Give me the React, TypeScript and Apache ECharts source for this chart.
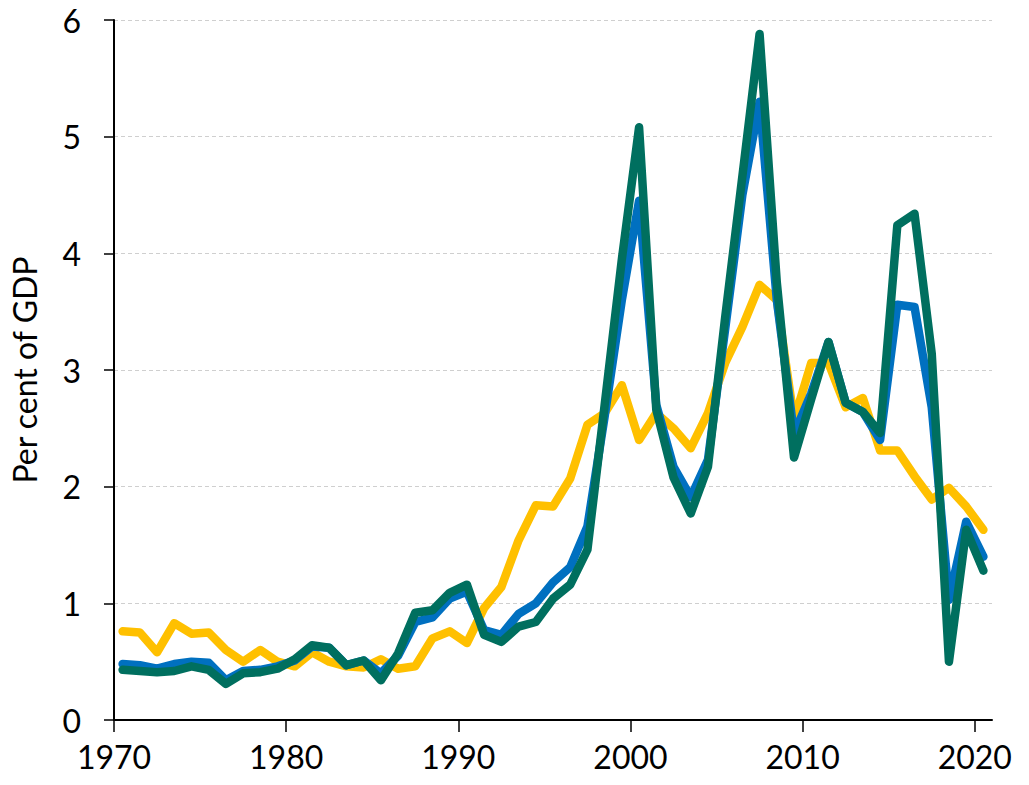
import React, { useEffect, useRef } from "react";
import * as echarts from "echarts";

const years = [
  1970, 1971, 1972, 1973, 1974, 1975, 1976, 1977, 1978, 1979,
  1980, 1981, 1982, 1983, 1984, 1985, 1986, 1987, 1988, 1989,
  1990, 1991, 1992, 1993, 1994, 1995, 1996, 1997, 1998, 1999,
  2000, 2001, 2002, 2003, 2004, 2005, 2006, 2007, 2008, 2009,
  2010, 2011, 2012, 2013, 2014, 2015, 2016, 2017, 2018, 2019,
  2020,
];

const yellowSeries = [
  0.76, 0.75, 0.58, 0.83, 0.74, 0.75, 0.6, 0.5, 0.6, 0.5,
  0.46, 0.58, 0.5, 0.46, 0.45, 0.52, 0.44, 0.46, 0.7, 0.76,
  0.66, 0.96, 1.14, 1.54, 1.84, 1.83, 2.07, 2.53, 2.63, 2.87,
  2.4, 2.63, 2.5, 2.33, 2.63, 3.06, 3.37, 3.73, 3.6, 2.57,
  3.06, 3.06, 2.68, 2.76, 2.31, 2.31, 2.09, 1.89, 1.99, 1.83,
  1.63,
];

const blueSeries = [
  0.48, 0.47, 0.44, 0.48, 0.5, 0.49, 0.34, 0.42, 0.43, 0.46,
  0.51, 0.63, 0.62, 0.47, 0.51, 0.4, 0.55, 0.84, 0.88, 1.04,
  1.1, 0.77, 0.73, 0.91, 1.0, 1.18, 1.31, 1.66, 2.6, 3.6,
  4.45, 2.7, 2.17, 1.91, 2.23, 3.35, 4.5, 5.3, 3.6, 2.45,
  2.8, 3.24, 2.72, 2.64, 2.4, 3.56, 3.54, 2.68, 1.03, 1.7,
  1.4,
];

const greenSeries = [
  0.43, 0.42, 0.41, 0.42, 0.46, 0.43, 0.31, 0.4, 0.41, 0.44,
  0.52, 0.64, 0.62, 0.47, 0.51, 0.34, 0.57, 0.92, 0.94, 1.09,
  1.16, 0.73, 0.67, 0.8, 0.84, 1.04, 1.16, 1.46, 2.7, 3.95,
  5.08, 2.66, 2.08, 1.77, 2.17, 3.45, 4.66, 5.88, 3.75, 2.25,
  2.75, 3.24, 2.72, 2.64, 2.46, 4.24, 4.34, 3.14, 0.5, 1.63,
  1.28,
];

const yTicks = ["0", "1", "2", "3", "4", "5", "6"];

const FONT = "Lato, 'Noto Sans', sans-serif";

export default function App() {
  const ref = useRef<HTMLDivElement>(null);

  useEffect(() => {
    if (!ref.current) return;
    const chart = echarts.init(ref.current, undefined, { renderer: "svg" });
    const toPoints = (vals: number[]) => vals.map((v, i) => [years[i] + 0.5, v]);
    const lineSeries = (name: string, vals: number[], color: string) => ({
      name,
      type: "line",
      data: toPoints(vals),
      showSymbol: false,
      symbol: "none",
      lineStyle: { color, width: 8.5, cap: "round", join: "round" },
      itemStyle: { color },
    });
    chart.setOption({
      animation: false,
      backgroundColor: "#ffffff",
      grid: { left: 107, right: 37, top: 20, bottom: 65, containLabel: false },
      xAxis: {
        type: "value",
        min: 1970,
        max: 2021,
        interval: 10,
        axisLine: { show: true, lineStyle: { color: "#000", width: 2 } },
        axisTick: { show: true, length: 12, lineStyle: { color: "#000", width: 1.5 } },
        axisLabel: {
          color: "#000",
          fontSize: 32,
          fontFamily: FONT,
          margin: 20,
          showMaxLabel: false,
          formatter: (v: number) => String(v),
        },
        splitLine: { show: false },
      },
      yAxis: {
        type: "value",
        min: 0,
        max: 6,
        interval: 1,
        name: "Per cent of GDP",
        nameLocation: "middle",
        nameGap: 74,
        nameRotate: 90,
        nameTextStyle: { color: "#000", fontSize: 32, fontFamily: FONT },
        axisLine: { show: true, lineStyle: { color: "#000", width: 2 } },
        axisTick: { show: true, length: 10, lineStyle: { color: "#000", width: 1.5 } },
        axisLabel: {
          color: "#000",
          fontSize: 32,
          fontFamily: FONT,
          margin: 33,
          formatter: (v: number) => yTicks[Math.round(v)] ?? String(v),
        },
        splitLine: {
          show: true,
          lineStyle: { color: "#cfcfcf", type: [4, 3], width: 1 },
        },
      },
      series: [
        lineSeries("Yellow", yellowSeries, "#FFC000"),
        lineSeries("Blue", blueSeries, "#0070C0"),
        lineSeries("Green", greenSeries, "#006F5F"),
      ],
    });
    return () => chart.dispose();
  }, []);

  return <div ref={ref} style={{ width: 1029, height: 785, margin: -8 }} />;
}
